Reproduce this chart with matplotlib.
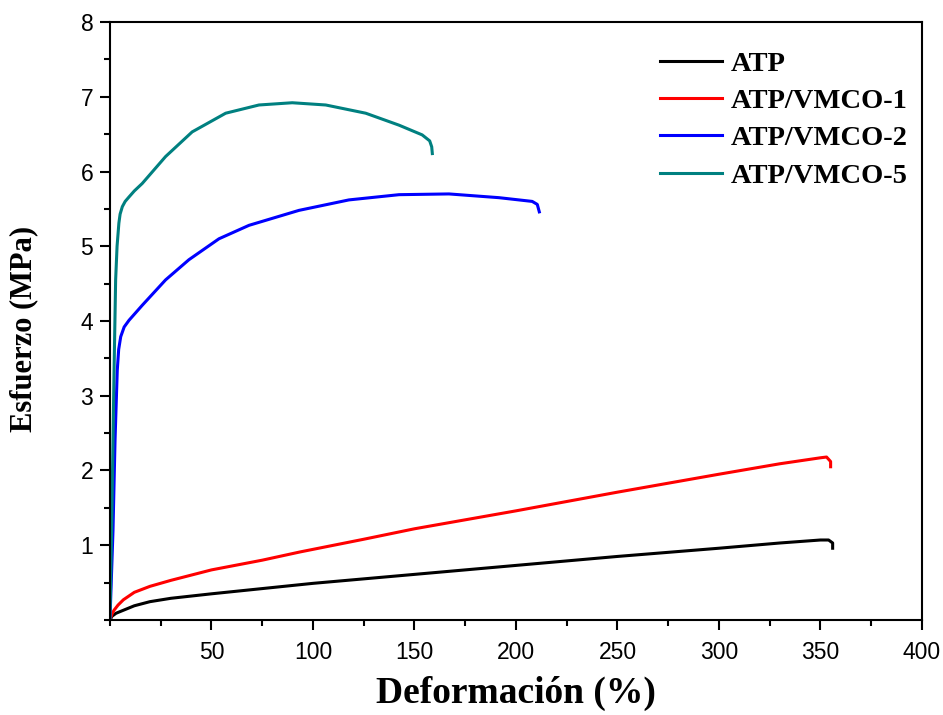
import numpy as np
import matplotlib.pyplot as plt
from matplotlib.ticker import MultipleLocator

# Datos (deformacion %, esfuerzo MPa)
atp_x = [0, 1, 3, 6.6, 12, 19.7, 30, 50, 75, 100, 150, 200, 250, 300, 330, 350, 354, 356, 356]
atp_y = [0, 0.05, 0.09, 0.13, 0.19, 0.245, 0.29, 0.35, 0.42, 0.49, 0.61, 0.73, 0.85, 0.96, 1.03, 1.07, 1.07, 1.03, 0.96]

v1_x = [0, 1, 2, 4, 6.6, 12, 19.7, 30, 50, 75, 93.6, 125, 150, 200, 250, 300, 330, 350, 353, 355, 355]
v1_y = [0, 0.08, 0.13, 0.2, 0.27, 0.37, 0.45, 0.53, 0.67, 0.8, 0.91, 1.08, 1.22, 1.46, 1.71, 1.95, 2.09, 2.17, 2.18, 2.12, 2.05]

v2_x = [0, 1.5, 2.5, 3.2, 3.6, 4.3, 5.3, 7, 9.4, 15.9, 27.4, 38.9, 53.7, 68.5, 93.1, 117.7, 142.4, 167, 191.6, 208, 210.5, 211.5]
v2_y = [0, 1.2, 2.4, 3.0, 3.34, 3.62, 3.79, 3.92, 4.01, 4.21, 4.55, 4.82, 5.1, 5.28, 5.48, 5.62, 5.69, 5.7, 5.65, 5.6, 5.56, 5.46]

v5_x = [0, 1, 2, 2.8, 3.5, 4.4, 5, 6.1, 7.5, 9.4, 12, 15.9, 27.4, 40.5, 57, 73.4, 89.8, 106.3, 126, 142.4, 153.8, 157.5, 158.5, 158.8]
v5_y = [0, 1.5, 3.3, 4.55, 5.0, 5.31, 5.43, 5.53, 5.6, 5.66, 5.74, 5.84, 6.2, 6.53, 6.78, 6.89, 6.92, 6.89, 6.78, 6.62, 6.49, 6.41, 6.33, 6.24]

labels = ['ATP', 'ATP/VMCO-1', 'ATP/VMCO-2', 'ATP/VMCO-5']
colores = ['black', '#ff0000', '#0000ff', '#008080']

fig = plt.figure(figsize=(9.43, 7.15), dpi=100)
ax = fig.add_axes([0.1166, 0.1329, 0.8611, 0.8363])

series = [(atp_x, atp_y), (v1_x, v1_y), (v2_x, v2_y), (v5_x, v5_y)]
for (x, y), lab, c in zip(series, labels, colores):
    ax.plot(x, y, color=c, lw=2.2, label=lab)

ax.set_xlim(0, 400)
ax.set_ylim(0, 8)
ax.xaxis.set_minor_locator(MultipleLocator(25))
ax.yaxis.set_minor_locator(MultipleLocator(0.5))

# sin etiqueta en el cero
ax.set_xticks([50, 100, 150, 200, 250, 300, 350, 400])
ax.set_yticks([1, 2, 3, 4, 5, 6, 7, 8])

for s in ax.spines.values():
    s.set_linewidth(1.5)
ax.tick_params(which='major', direction='out', length=7, width=1.5, labelsize=16.5)
ax.tick_params(axis='x', which='major', pad=8)
ax.tick_params(axis='y', which='major', pad=5)
ax.tick_params(which='minor', direction='out', length=4, width=1.5)
for t in ax.get_xticklabels() + ax.get_yticklabels():
    t.set_fontfamily('Liberation Sans')

ax.set_xlabel('Deformación (%)', fontsize=27, fontweight='bold', family='Liberation Serif', labelpad=9)
ax.set_ylabel('Esfuerzo (MPa)', fontsize=22, fontweight='bold', family='Liberation Serif')
ax.yaxis.set_label_coords(-0.088, 0.487)

ax.legend(loc='upper left', frameon=False, prop={'family': 'Liberation Serif', 'weight': 'bold', 'size': 20.5},
          handlelength=2.18, labelspacing=0.4, handletextpad=0.32, borderaxespad=0,
          bbox_to_anchor=(0.663, 0.971))

fig.savefig('out.png', dpi=100)
